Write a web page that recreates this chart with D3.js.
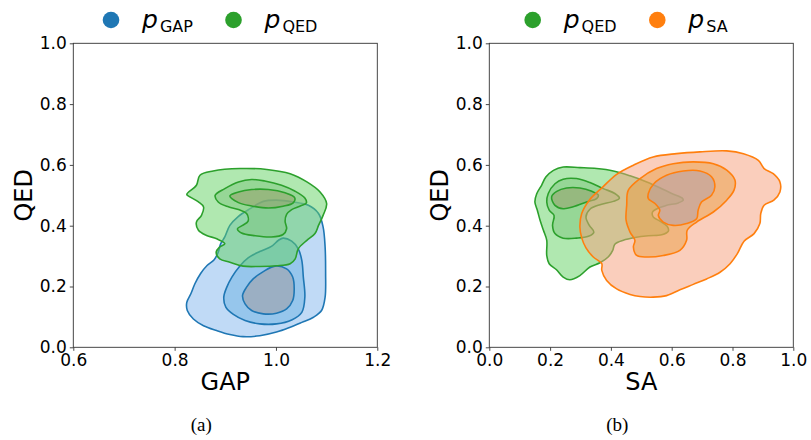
<!DOCTYPE html>
<html>
<head>
<meta charset="utf-8">
<script src="https://cdn.jsdelivr.net/npm/d3@7"></script>
<style>
  body { margin: 0; background: #fff; }
  svg text { font-family: "DejaVu Sans", sans-serif; }
</style>
</head>
<body>
<div id="chart"></div>
<script>
// contour outlines, [x, y] in data units

// panel (a): x = GAP, y = QED
var gapTicks = [0.6, 0.8, 1.0, 1.2];
var qedTicks = [0.0, 0.2, 0.4, 0.6, 0.8, 1.0];
var saTicks = [0.0, 0.2, 0.4, 0.6, 0.8, 1.0];

var gapOuter = [[0.949,0.456],[0.975,0.480],[1.001,0.484],[1.034,0.478],[1.064,0.467],[1.084,0.440],
  [1.093,0.396],[1.097,0.330],[1.098,0.242],[1.097,0.165],[1.090,0.121],[1.074,0.099],[1.051,0.082],
  [1.028,0.066],[1.001,0.050],[0.968,0.038],[0.935,0.035],[0.909,0.042],[0.883,0.055],[0.857,0.071],
  [0.837,0.093],[0.825,0.121],[0.824,0.148],[0.832,0.176],[0.840,0.209],[0.851,0.242],[0.864,0.269],
  [0.878,0.288],[0.886,0.313],[0.891,0.341],[0.899,0.363],[0.909,0.401],[0.926,0.431]];
var gapMid = [[1.014,0.359],[1.031,0.349],[1.044,0.324],[1.051,0.286],[1.054,0.231],[1.057,0.165],
  [1.051,0.115],[1.031,0.090],[1.001,0.077],[0.968,0.077],[0.939,0.088],[0.916,0.108],[0.901,0.132],
  [0.897,0.165],[0.903,0.198],[0.913,0.231],[0.928,0.266],[0.945,0.294],[0.968,0.315],[0.991,0.332],
  [1.005,0.352]];
var gapInner = [[0.998,0.267],[1.021,0.258],[1.033,0.231],[1.036,0.192],[1.033,0.154],[1.021,0.126],
  [1.001,0.112],[0.975,0.110],[0.952,0.121],[0.939,0.143],[0.934,0.170],[0.942,0.198],[0.955,0.225],
  [0.975,0.249]];

var qedOuterA = [[0.824,0.503],[0.843,0.533],[0.850,0.566],[0.876,0.580],[0.929,0.588],[0.982,0.585],
  [1.028,0.571],[1.061,0.544],[1.087,0.511],[1.100,0.473],[1.093,0.434],[1.084,0.401],[1.077,0.374],
  [1.061,0.352],[1.044,0.324],[1.038,0.291],[1.028,0.275],[1.001,0.268],[0.968,0.266],[0.935,0.267],
  [0.909,0.280],[0.889,0.291],[0.882,0.313],[0.889,0.330],[0.899,0.341],[0.883,0.357],[0.863,0.368],
  [0.847,0.385],[0.843,0.412],[0.853,0.434],[0.857,0.462],[0.847,0.478],[0.830,0.495]];
var qedMidA = [[0.880,0.500],[0.899,0.522],[0.926,0.544],[0.952,0.552],[0.978,0.547],[1.011,0.533],
  [1.037,0.514],[1.057,0.491],[1.060,0.475],[1.047,0.464],[1.031,0.453],[1.021,0.437],[1.018,0.415],
  [1.021,0.390],[1.014,0.371],[0.991,0.363],[0.959,0.367],[0.932,0.376],[0.924,0.390],[0.934,0.401],
  [0.945,0.415],[0.942,0.440],[0.926,0.453],[0.906,0.462],[0.886,0.478]];
var qedInnerA = [[0.909,0.498],[0.926,0.511],[0.952,0.519],[0.985,0.519],[1.018,0.508],[1.037,0.492],
  [1.034,0.475],[1.014,0.464],[0.985,0.458],[0.952,0.465],[0.926,0.476]];

// panel (b): x = SA, y = QED
var qedOuterB = [[0.243,0.593],[0.298,0.591],[0.353,0.588],[0.408,0.580],[0.463,0.564],[0.518,0.544],
  [0.561,0.525],[0.600,0.506],[0.633,0.492],[0.638,0.484],[0.622,0.475],[0.583,0.467],[0.556,0.458],
  [0.537,0.445],[0.539,0.429],[0.561,0.415],[0.585,0.398],[0.589,0.382],[0.567,0.370],[0.523,0.367],
  [0.479,0.361],[0.441,0.352],[0.413,0.339],[0.406,0.319],[0.391,0.297],[0.364,0.278],[0.331,0.264],
  [0.298,0.236],[0.265,0.222],[0.243,0.231],[0.221,0.255],[0.197,0.275],[0.189,0.302],[0.189,0.352],
  [0.178,0.385],[0.167,0.418],[0.158,0.451],[0.150,0.478],[0.156,0.505],[0.172,0.533],[0.186,0.560],
  [0.211,0.582]];
var qedMidB = [[0.189,0.478],[0.194,0.506],[0.216,0.538],[0.243,0.553],[0.287,0.555],[0.331,0.542],
  [0.375,0.522],[0.413,0.506],[0.428,0.491],[0.408,0.480],[0.364,0.469],[0.331,0.454],[0.318,0.429],
  [0.329,0.401],[0.344,0.379],[0.326,0.365],[0.287,0.359],[0.243,0.359],[0.216,0.374],[0.208,0.401],
  [0.213,0.434],[0.197,0.451]];
var qedInnerB = [[0.205,0.495],[0.222,0.513],[0.254,0.524],[0.298,0.524],[0.337,0.513],[0.359,0.500],
  [0.353,0.489],[0.320,0.478],[0.276,0.462],[0.243,0.456],[0.216,0.467]];

var saOuter = [[0.298,0.396],[0.304,0.440],[0.329,0.484],[0.373,0.527],[0.419,0.569],[0.474,0.599],
  [0.539,0.626],[0.616,0.637],[0.693,0.643],[0.781,0.646],[0.836,0.637],[0.885,0.615],[0.904,0.588],
  [0.934,0.571],[0.956,0.544],[0.956,0.511],[0.936,0.484],[0.904,0.467],[0.893,0.440],[0.890,0.407],
  [0.871,0.374],[0.838,0.349],[0.816,0.308],[0.792,0.275],[0.759,0.247],[0.715,0.225],[0.671,0.207],
  [0.627,0.189],[0.583,0.170],[0.539,0.165],[0.496,0.167],[0.463,0.174],[0.419,0.192],[0.386,0.220],
  [0.370,0.253],[0.370,0.275],[0.342,0.297],[0.318,0.327],[0.304,0.360]];
var saMid = [[0.452,0.467],[0.457,0.516],[0.496,0.555],[0.550,0.588],[0.605,0.604],[0.671,0.610],
  [0.737,0.604],[0.781,0.583],[0.808,0.550],[0.805,0.517],[0.781,0.484],[0.737,0.445],[0.682,0.412],
  [0.651,0.385],[0.649,0.352],[0.627,0.319],[0.572,0.302],[0.518,0.297],[0.485,0.302],[0.474,0.330],
  [0.479,0.352],[0.463,0.379],[0.450,0.418]];
var saInner = [[0.523,0.506],[0.542,0.539],[0.583,0.566],[0.638,0.580],[0.693,0.580],[0.731,0.561],
  [0.742,0.528],[0.731,0.500],[0.698,0.478],[0.687,0.451],[0.682,0.423],[0.649,0.407],[0.605,0.401],
  [0.572,0.412],[0.556,0.434],[0.561,0.451],[0.545,0.473],[0.523,0.489]];

var colors = { GAP: "#1f77b4", QED: "#2ca02c", SA: "#ff7f0e" };
// fills for outer / middle / inner levels, drawn at half opacity
var fills = {
  GAP: ["#81b5ed", "#6cb2e2", "#a0989a"],
  QED: ["#61d161", "#7cc67c", "#969b68"],
  SA:  ["#f59d79", "#ea9e44", "#ae9eac"]
};

var W = 811, H = 440;
var svg = d3.select("#chart").append("svg").attr("width", W).attr("height", H);

var panels = [
  { left: 73.3, xDomain: [0.6, 1.2], xTicks: gapTicks, xLabel: "GAP", caption: "(a)",
    series: [
      { key: "GAP", sub: "GAP", levels: [gapOuter, gapMid, gapInner] },
      { key: "QED", sub: "QED", levels: [qedOuterA, qedMidA, qedInnerA] }
    ],
    legendX: [111, 233.5] },
  { left: 489.3, xDomain: [0, 1], xTicks: saTicks, xLabel: "SA", caption: "(b)",
    series: [
      { key: "QED", sub: "QED", levels: [qedOuterB, qedMidB, qedInnerB] },
      { key: "SA", sub: "SA", levels: [saOuter, saMid, saInner] }
    ],
    legendX: [532.7, 657.3] }
];

var plotTop = 43.3, size = 304;

panels.forEach(function(p) {
  var x = d3.scaleLinear().domain(p.xDomain).range([p.left, p.left + size]);
  var y = d3.scaleLinear().domain([0, 1]).range([plotTop + size, plotTop]);
  var line = d3.line()
    .x(function(d) { return x(d[0]); })
    .y(function(d) { return y(d[1]); })
    .curve(d3.curveCatmullRomClosed.alpha(0.5));

  var g = svg.append("g");
  p.series.forEach(function(s) {
    var sg = g.append("g");
    sg.selectAll("path")
      .data(s.levels)
      .enter()
      .append("path")
      .attr("d", line)
      .attr("fill", function(d, i) { return fills[s.key][i]; })
      .attr("fill-opacity", 0.5)
      .attr("stroke", colors[s.key])
      .attr("stroke-width", 1.6)
      .attr("stroke-linejoin", "round");
  });

  // frame
  g.append("rect")
    .attr("x", p.left).attr("y", plotTop)
    .attr("width", size).attr("height", size)
    .attr("fill", "none").attr("stroke", "#333").attr("stroke-width", 0.9);

  var xAxis = g.append("g")
    .attr("transform", "translate(0," + (plotTop + size) + ")")
    .call(d3.axisBottom(x).tickValues(p.xTicks).tickFormat(d3.format(".1f"))
      .tickSize(3.5).tickPadding(3));
  var yAxis = g.append("g")
    .attr("transform", "translate(" + p.left + ",0)")
    .call(d3.axisLeft(y).tickValues(qedTicks).tickFormat(d3.format(".1f"))
      .tickSize(3.5).tickPadding(3));
  [xAxis, yAxis].forEach(function(a) {
    a.select(".domain").remove();
    a.selectAll("line").attr("stroke", "#333").attr("stroke-width", 0.9);
    a.selectAll("text")
      .attr("fill", "#000")
      .style("font-family", "DejaVu Sans")
      .style("font-size", "17px");
  });

  g.append("text")
    .attr("x", p.left + size / 2).attr("y", 390)
    .attr("text-anchor", "middle")
    .style("font-size", "24px")
    .text(p.xLabel);
  g.append("text")
    .attr("transform", "translate(" + (p.left - 41) + "," + (plotTop + size / 2) + ") rotate(-90)")
    .attr("text-anchor", "middle")
    .style("font-size", "24px")
    .text("QED");

  g.append("text")
    .attr("x", p.left + size / 2 - 24).attr("y", 431)
    .attr("text-anchor", "middle")
    .style("font-family", "Liberation Serif, serif")
    .style("font-size", "19px")
    .text(p.caption);

  // legend
  var leg = svg.append("g")
    .selectAll("g")
    .data(p.series)
    .enter()
    .append("g")
    .attr("transform", function(d, i) { return "translate(" + p.legendX[i] + ",20)"; });
  leg.append("circle")
    .attr("r", 8.3)
    .attr("fill", function(d) { return colors[d.key]; });
  var lt = leg.append("text")
    .attr("x", 31).attr("y", 8);
  lt.append("tspan")
    .style("font-size", "25px")
    .style("font-style", "italic")
    .text("p");
  lt.append("tspan")
    .attr("dy", 4)
    .attr("dx", 2)
    .style("font-size", "16px")
    .text(function(d) { return d.sub; });
});
</script>
</body>
</html>
